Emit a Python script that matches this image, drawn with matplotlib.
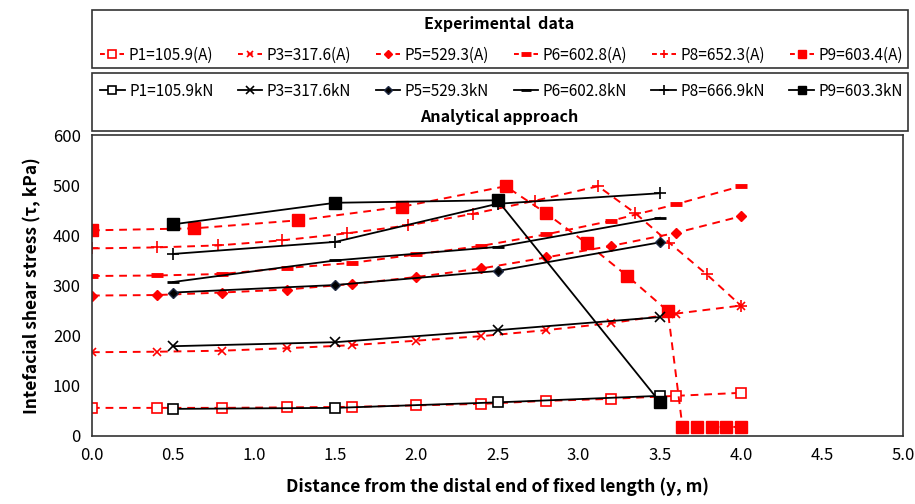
import matplotlib
matplotlib.use("Agg")
import matplotlib.pyplot as plt
from matplotlib.patches import Rectangle
from matplotlib.lines import Line2D

plt.rcParams['font.family'] = ['Noto Sans CJK KR', 'DejaVu Sans']

# experimental data (red dashed)
x_exp = [0.0, 0.4, 0.8, 1.2, 1.6, 2.0, 2.4, 2.8, 3.2, 3.6, 4.0]
p1_exp = [56, 56, 56, 57, 58, 61, 64, 70, 74, 80, 86]
p3_exp = [167, 168, 170, 175, 181, 190, 199, 211, 225, 244, 260]
p5_exp = [280, 281, 286, 292, 303, 317, 334, 356, 379, 405, 438]
p6_exp = [319, 320, 323, 335, 345, 362, 379, 402, 429, 462, 498]
x_p8_exp = [0.0, 0.4, 0.78, 1.17, 1.57, 1.95, 2.35, 2.73, 3.12, 3.35, 3.56, 3.79, 4.0]
p8_exp = [374, 376, 380, 390, 404, 420, 443, 469, 498, 444, 385, 322, 260]
x_p9_exp = [0.0, 0.63, 1.27, 1.91, 2.55, 2.8, 3.05, 3.3, 3.55, 3.64, 3.73, 3.82, 3.91, 4.0]
p9_exp = [410, 414, 430, 457, 498, 444, 384, 319, 249, 18, 18, 18, 18, 18]

# analytical approach (black solid)
x_an = [0.5, 1.5, 2.5, 3.5]
p1_an = [54, 56, 67, 80]
p3_an = [179, 187, 211, 237]
p5_an = [286, 301, 329, 386]
p6_an = [307, 350, 377, 435]
p8_an = [363, 387, 463, 484]
p9_an = [422, 465, 470, 68]

exp_labels = ['P1=105.9(A)', 'P3=317.6(A)', 'P5=529.3(A)', 'P6=602.8(A)', 'P8=652.3(A)', 'P9=603.4(A)']
an_labels = ['P1=105.9kN', 'P3=317.6kN', 'P5=529.3kN', 'P6=602.8kN', 'P8=666.9kN', 'P9=603.3kN']

fig = plt.figure(figsize=(9.15, 5.04), dpi=100)
ax = fig.add_axes([0.1005, 0.135, 0.8865, 0.597])

red = '#ff0000'
exp_series = [
    (x_exp, p1_exp, dict(marker='s', mfc='white', mec=red, ms=6.5, mew=1.2)),
    (x_exp, p3_exp, dict(marker='x', mec=red, ms=6, mew=1.2)),
    (x_exp, p5_exp, dict(marker='D', mfc=red, mec=red, ms=5.5)),
    (x_exp, p6_exp, dict(marker='_', mec=red, ms=9, mew=3.5)),
    (x_p8_exp, p8_exp, dict(marker='+', mec=red, ms=8, mew=1.2)),
    (x_p9_exp, p9_exp, dict(marker='s', mfc=red, mec=red, ms=8)),
]
an_series = [
    (x_an, p1_an, dict(marker='s', mfc='white', mec='black', ms=6.5, mew=1.2)),
    (x_an, p3_an, dict(marker='x', mec='black', ms=6.5, mew=1.2)),
    (x_an, p5_an, dict(marker='D', mfc='black', mec='#1f2a44', ms=5.5)),
    (x_an, p6_an, dict(marker='_', mec='black', ms=9, mew=2)),
    (x_an, p8_an, dict(marker='+', mec='black', ms=9, mew=1.2)),
    (x_an, p9_an, dict(marker='s', mfc='black', mec='black', ms=8)),
]

exp_handles = []
for (xs, ys, st), lab in zip(exp_series, exp_labels):
    ax.plot(xs, ys, color=red, ls=(0, (4, 3)), lw=1.4, zorder=2, **st)
    h = dict(st)
    h['ms'] = st['ms'] * 0.8
    exp_handles.append(Line2D([], [], color=red, ls=(0, (2.5, 2.5)), lw=1.4, **h))

an_handles = []
for (xs, ys, st), lab in zip(an_series, an_labels):
    ax.plot(xs, ys, color='black', ls='-', lw=1.3, zorder=3, **st)
    h = dict(st)
    h['ms'] = st['ms'] * 0.8
    an_handles.append(Line2D([], [], color='black', ls='-', lw=1.3, **h))

ax.set_xlim(0, 5)
ax.set_ylim(0, 600)
ax.set_xticks([i * 0.5 for i in range(11)])
ax.set_xticklabels([f'{i * 0.5:.1f}' for i in range(11)])
ax.set_yticks(range(0, 601, 100))
ax.tick_params(length=0, labelsize=12, pad=8)
for s in ax.spines.values():
    s.set_color('#333333')
    s.set_linewidth(1.2)

ax.set_xlabel('Distance from the distal end of fixed length (y, m)', fontsize=12.5,
              fontweight='bold', labelpad=10)
ax.set_ylabel('Intefacial shear stress (τ, kPa)', fontsize=12.5, fontweight='bold', labelpad=8)

# legend boxes
fig.patches.append(Rectangle((0.1, 1 - 68 / 504), 0.892, 58 / 504, transform=fig.transFigure,
                             fill=False, ec='#333333', lw=1.2))
fig.patches.append(Rectangle((0.1, 1 - 131 / 504), 0.892, 58 / 504, transform=fig.transFigure,
                             fill=False, ec='#333333', lw=1.2))
fig.text(0.546, 1 - 24 / 504, 'Experimental  data', ha='center', va='center', fontsize=11.5,
         fontweight='bold')
fig.text(0.546, 1 - 117 / 504, 'Analytical approach', ha='center', va='center', fontsize=11.5,
         fontweight='bold')
fig.legend(exp_handles, exp_labels, ncol=6, loc='center', bbox_to_anchor=(0.548, 1 - 55 / 504),
           frameon=False, fontsize=11, handlelength=1.6, handletextpad=0.3, columnspacing=1.6,
           borderpad=0)
fig.legend(an_handles, an_labels, ncol=6, loc='center', bbox_to_anchor=(0.548, 1 - 91 / 504),
           frameon=False, fontsize=11, handlelength=1.6, handletextpad=0.3, columnspacing=1.6,
           borderpad=0)

fig.savefig('out.png', dpi=100)
